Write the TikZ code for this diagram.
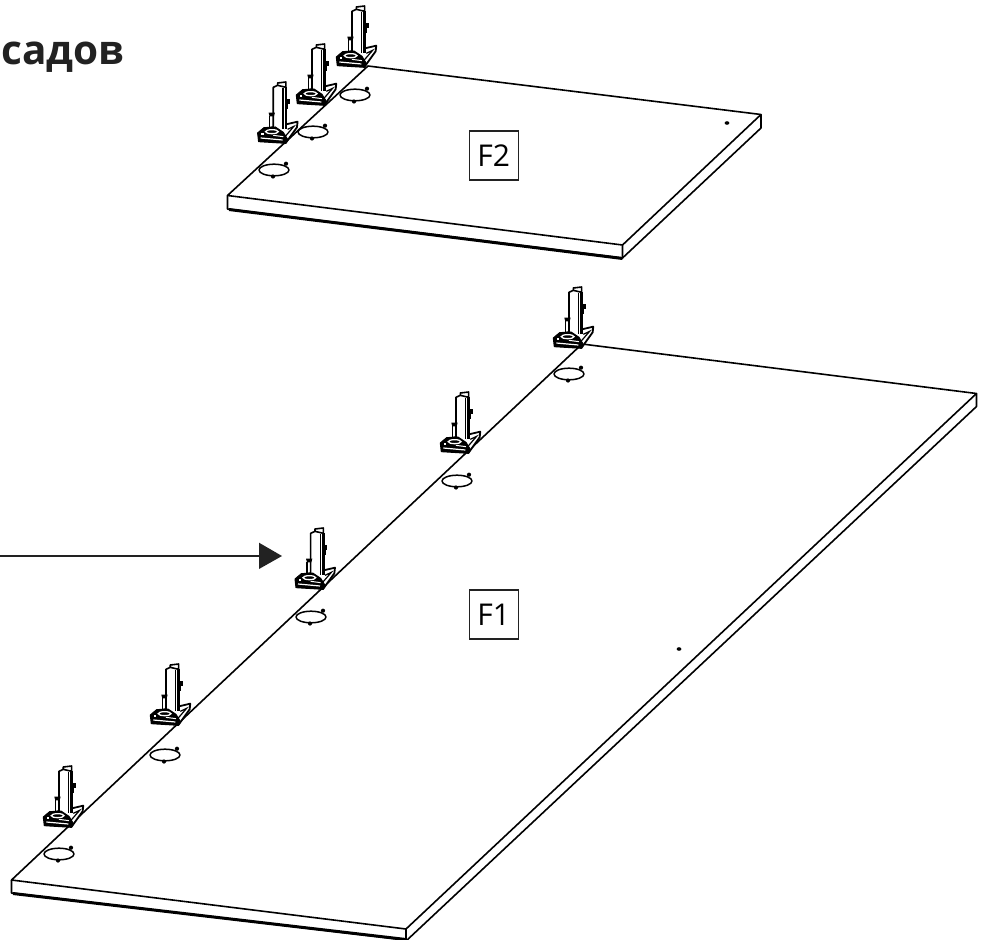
\documentclass[tikz,border=0pt]{standalone}
\usepackage{fontspec}
\setmainfont{Open Sans}
\definecolor{ink}{HTML}{222222}
\tikzset{
  x=1pt,y=-1pt,
  edge/.style={draw=black,line width=1.6pt,line join=round,fill=white},
  fine/.style={draw=black,line width=1.1pt,line join=round},
  under/.style={draw=black,line width=3pt},
  tag/.style={draw=ink,line width=1.1pt,minimum width=49pt,minimum height=49pt,inner sep=0pt,font=\fontsize{30}{30}\selectfont,fill=white},
  hole/.pic={
    \draw[fine,line width=1.5pt] (0,0) ellipse [x radius=15,y radius=5.8];
    \fill (12,-6.3) circle (2.1);
    \fill (-1,6.5) circle (2.1);
  },
  clamp/.pic={
    \begin{scope}[x=0.3333pt,y=-0.3333pt]
      % plate
      \draw[fine,line width=1.8pt,fill=white] (110,192) -- (165,180) -- (195,173) -- (193,190) -- (160,236) -- (110,225) -- cycle;
      \draw[line width=1.2pt] (165,196) -- (184,187) -- (152,224);
      % post
      \fill[white] (122,70) -- (135,64) -- (135,57) -- (160,54) -- (160,195) -- (122,195) -- cycle;
      \draw[fine,line width=1.6pt] (122,190) -- (122,70) -- (135,64) -- (135,57) -- (160,54) -- (160,70) -- (135,64);
      \draw[line width=2.4pt] (160,70) -- (160,195);
      \draw[line width=1.3pt] (151,72) -- (151,195);
      \draw[line width=1.6pt] (165,105) -- (165,135);
      \fill (160,106) rectangle (172,120);
      \fill (108,146) -- (127,146) -- (124,157) -- (111,157) -- cycle;
      \draw[line width=1.3pt] (111,155) -- (111,192) (122,155) -- (122,192);
      % block
      \fill[line join=round,draw=black,line width=1pt] (75,207) -- (94,191) -- (128,189) -- (152,205) -- (165,226) -- (160,238) -- (78,233) -- cycle;
      \draw[white,line width=1.3pt] (118,203) ellipse [x radius=19,y radius=6];
      \fill[white] (86,207) rectangle (93,212);
      \draw[white,line width=1.2pt] (84,222) -- (150,228);
      \draw[white,line width=1pt] (122,214) -- (152,218);
    \end{scope}
  }
}
\begin{document}
\begin{tikzpicture}
\useasboundingbox (0,0) rectangle (987,939);
% title
\node[anchor=base west,inner sep=0pt,text=ink,font=\bfseries\fontsize{40.5}{40}\selectfont] (title) at (1,65) {садов};
% F2 panel
\coordinate (a2) at (368,66);
\coordinate (b2) at (761,114.5);
\coordinate (c2) at (622.5,245);
\coordinate (d2) at (227.5,195.5);
\draw[under] (229,209.5) -- (622.5,258.5);
\draw[edge] (a2) -- (b2) -- (c2) -- (d2) -- cycle;
\draw[edge,fill=none] (d2) -- ++(0,13.5) -- (622.5,258) -- (c2);
\draw[edge,fill=none] (622.5,258) -- (761,128) -- (b2);
\fill (727,123) ellipse [x radius=2.4,y radius=1.8];
\node[tag] (F2) at (493.8,155.5) {F2};
\pic at (355,95) {hole};
\pic at (313,132) {hole};
\pic at (274,170) {hole};
\pic at (311.3,-12) {clamp};
\pic at (271.3,26) {clamp};
\pic at (232.6,64) {clamp};
% F1 panel
\coordinate (a1) at (582,344);
\coordinate (b1) at (976.5,393.5);
\coordinate (c1) at (406,929);
\coordinate (d1) at (11.5,880);
\draw[under] (13,893.5) -- (406,939.5);
\draw[edge] (a1) -- (b1) -- (c1) -- (d1) -- cycle;
\draw[edge,fill=none] (d1) -- ++(0,13) -- (406,940);
\draw[edge,fill=none] (c1) -- (406,941) (406,941) -- (976.5,406.5) -- (b1);
\fill (679,649) ellipse [x radius=2.4,y radius=1.8];
\node[tag] (F1) at (493.8,614.5) {F1};
\pic at (569,374) {hole};
\pic at (457,481) {hole};
\pic at (311,617) {hole};
\pic at (165,755) {hole};
\pic at (59,854) {hole};
\pic at (528.3,269) {clamp};
\pic at (415.3,374) {clamp};
\pic at (270,510) {clamp};
\pic at (125.3,646) {clamp};
\pic at (18.3,748) {clamp};
% arrow
\coordinate (arrowstart) at (0,556);
\coordinate (arrowhead) at (260,556);
\coordinate (arrowtip) at (282,556);
\draw[line width=1.6pt,ink] (arrowstart) -- (arrowhead);
\fill[ink] (259,542.7) -- (arrowtip) -- (259,569) -- cycle;
\end{tikzpicture}
\end{document}
